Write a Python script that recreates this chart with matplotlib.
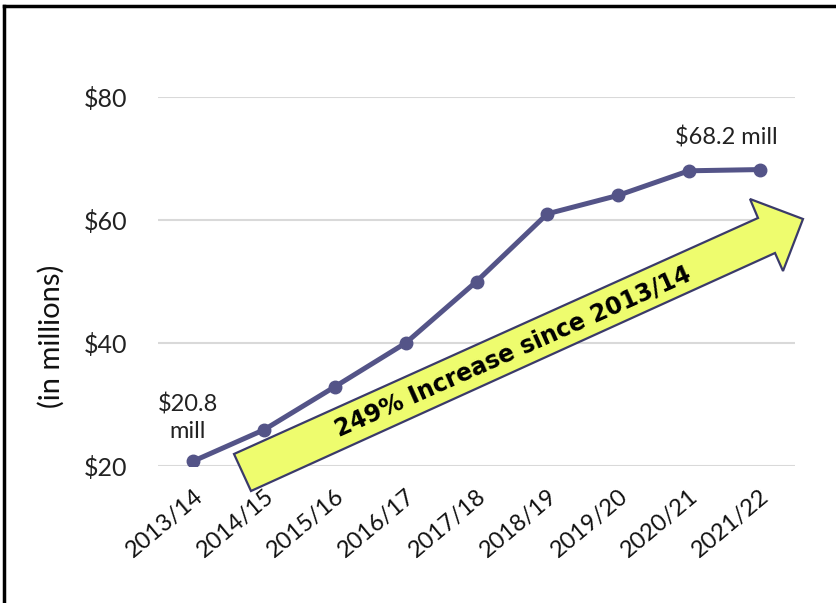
import matplotlib
matplotlib.use("Agg")
import matplotlib.pyplot as plt
from matplotlib.patches import Polygon
from matplotlib.lines import Line2D

categories = ["2013/14", "2014/15", "2015/16", "2016/17", "2017/18",
              "2018/19", "2019/20", "2020/21", "2021/22"]
values = [20.8, 25.9, 32.9, 40.0, 50.0, 61.0, 64.0, 68.0, 68.2]
ytick_vals = [20, 40, 60, 80]
ytick_labels = ["$20", "$40", "$60", "$80"]
first_label = "$20.8\nmill"
last_label = "$68.2 mill"
arrow_text = "249% Increase since 2013/14"
ylabel = "(in millions)"

W, H = 836, 603
fig = plt.figure(figsize=(W / 100, H / 100), dpi=100)
fig.patch.set_facecolor("white")

font = ["Lato", "DejaVu Sans"]

ax = fig.add_axes([158 / W, 1 - 466 / H, (795 - 158) / W, (466 - 97) / H])
x = list(range(len(categories)))
ax.set_xlim(-0.5, len(categories) - 0.5)
ax.set_ylim(20, 80)

ax.set_yticks(ytick_vals)
ax.set_yticklabels(ytick_labels, fontsize=18, family=font, color="#222222")
ax.set_xticks(x)
ax.set_xticklabels(categories, rotation=40, ha="right", rotation_mode="anchor",
                   fontsize=17, family=font, color="#111111")
ax.tick_params(axis="both", length=0)
ax.tick_params(axis="y", pad=22)
ax.tick_params(axis="x", pad=14)
for s in ax.spines.values():
    s.set_visible(False)
ax.grid(axis="y", color="#D9D9D9", linewidth=1.5)
ax.set_axisbelow(True)

ax.plot(x, values, color="#545488", linewidth=3.6, marker="o", markersize=9,
        zorder=3)

ax.set_ylabel(ylabel, fontsize=21, family=font, color="#111111")
ax.yaxis.set_label_coords((65 - 158) / 637, (466 - 336) / 369)

ax.annotate(first_label, (x[0], values[0]), xytext=(-4, 14),
            textcoords="offset points", ha="center", va="bottom",
            fontsize=17, family=font, color="#222222", linespacing=1.3)
ax.annotate(last_label, (x[-2], values[-2]), xytext=(27, 16),
            textcoords="offset points", ha="center", va="bottom",
            fontsize=17, family=font, color="#222222")

# Arrow annotation shape (figure pixel positions)
pts = [(234, 454), (758, 218), (750, 199), (803, 219), (783, 271),
       (775, 253), (251, 491)]
poly = Polygon([(px / W, 1 - py / H) for px, py in pts], closed=True,
               transform=fig.transFigure, facecolor="#EEFC6E",
               edgecolor="#3A3A6A", linewidth=1.6, zorder=5)
fig.patches.append(poly)
fig.text(513 / W, 1 - 352 / H, arrow_text, rotation=24.0, ha="center",
         va="center", fontsize=17, fontweight="bold",
         family=["DejaVu Sans"], color="#000000", zorder=6,
         rotation_mode="anchor")

# frame
fig.add_artist(Line2D([4 / W, 4 / W], [0, 1 - 6 / H], transform=fig.transFigure,
                      color="black", linewidth=2.5))
fig.add_artist(Line2D([4 / W, 1], [1 - 6 / H, 1 - 6 / H], transform=fig.transFigure,
                      color="black", linewidth=2.5))

fig.savefig("out.png", dpi=100, facecolor="white")
